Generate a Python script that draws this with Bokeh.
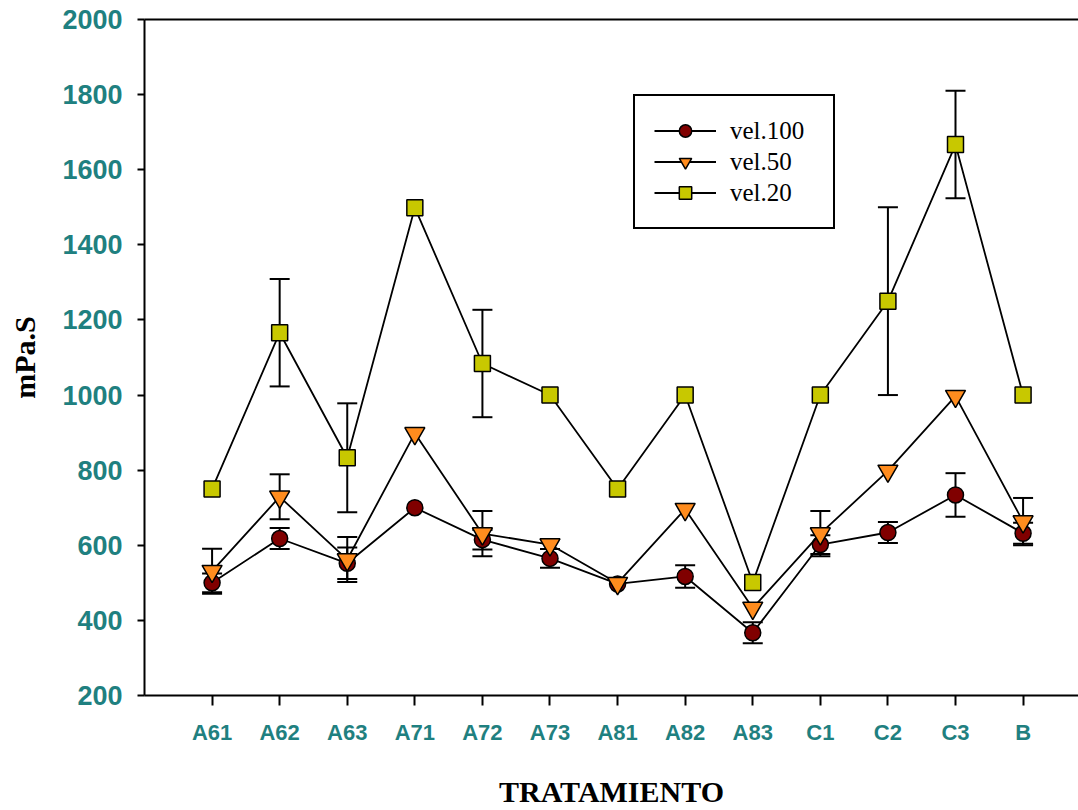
from bokeh.plotting import figure
from bokeh.models import (ColumnDataSource, Whisker, TeeHead, FixedTicker, LinearAxis,
                          Legend, LegendItem, Range1d)
from bokeh.embed import file_html
from bokeh.resources import INLINE

# ---------------- data ----------------
categories = ["A61", "A62", "A63", "A71", "A72", "A73", "A81", "A82", "A83", "C1", "C2", "C3", "B"]
vel100 = [500, 618, 552, 700, 615, 565, 497, 517, 367, 602, 634, 734, 632]
err100 = [25, 28, 42, 0, 26, 25, 0, 30, 28, 25, 28, 58, 28]
vel50 = [531, 729, 562, 898, 631, 602, 499, 696, 433, 631, 798, 997, 663]
err50 = [60, 60, 60, 0, 60, 0, 0, 0, 0, 60, 0, 0, 63]
vel20 = [750, 1166, 833, 1499, 1084, 1000, 750, 1000, 501, 1000, 1250, 1667, 1000]
err20 = [0, 143, 145, 0, 143, 0, 0, 0, 0, 0, 250, 143, 0]
y_ticks = [200, 400, 600, 800, 1000, 1200, 1400, 1600, 1800, 2000]

TEAL = "#1f8080"
xs = list(range(1, len(categories) + 1))

p = figure(width=1078, height=810, x_range=Range1d(0, 13.82), y_range=Range1d(200, 2000),
           output_backend="svg", toolbar_location=None,
           min_border_left=144, min_border_top=19, min_border_bottom=110, min_border_right=0)
p.outline_line_color = None
p.grid.visible = False
p.background_fill_color = "white"
p.border_fill_color = "white"

# axes styling
p.xaxis.ticker = FixedTicker(ticks=xs)
p.xaxis.major_label_overrides = {x: c for x, c in zip(xs, categories)}
p.yaxis.ticker = FixedTicker(ticks=y_ticks)
for ax in (p.xaxis[0], p.yaxis[0]):
    ax.axis_line_width = 2
    ax.axis_line_color = "black"
    ax.major_tick_line_width = 2
    ax.major_tick_in = 0
    ax.minor_tick_line_color = None
    ax.major_label_text_color = TEAL
    ax.major_label_text_font = "Liberation Sans"
    ax.major_label_text_font_style = "bold"
    ax.axis_label_text_font = "Liberation Serif"
    ax.axis_label_text_font_style = "bold"
    ax.axis_label_text_font_size = "30px"
    ax.axis_label_text_color = "black"

p.xaxis.major_tick_out = 10
p.xaxis.major_label_standoff = 14
p.xaxis.major_label_text_font_size = "22px"
p.xaxis.axis_label = "TRATAMIENTO"
p.xaxis.axis_label_standoff = 27

p.yaxis.major_tick_out = 7
p.yaxis.major_label_standoff = 15
p.yaxis.major_label_text_font_size = "27px"
p.yaxis.axis_label = "mPa.S"
p.yaxis.axis_label_standoff = 18

# top frame line
top = LinearAxis(ticker=FixedTicker(ticks=[]), major_label_text_font_size="0px",
                 major_tick_out=0, major_tick_in=0, minor_tick_out=0, minor_tick_in=0,
                 major_label_standoff=0, axis_line_width=2, axis_line_color="black")
p.add_layout(top, "above")

series = [
    ("vel.100", vel100, err100, "circle", "#800000", 16),
    ("vel.50", vel50, err50, "inverted_triangle", "#ff8c1e", 20),
    ("vel.20", vel20, err20, "square", "#c8c800", 16),
]

items = []
for label, vals, errs, marker, color, msize in series:
    ex = [x for x, e in zip(xs, errs) if e > 0]
    lo = [v - e for v, e in zip(vals, errs) if e > 0]
    hi = [v + e for v, e in zip(vals, errs) if e > 0]
    wsrc = ColumnDataSource(dict(x=ex, lower=lo, upper=hi))
    w = Whisker(source=wsrc, base="x", lower="lower", upper="upper",
                line_width=2, line_color="black",
                upper_head=TeeHead(size=20, line_width=2, line_color="black"),
                lower_head=TeeHead(size=20, line_width=2, line_color="black"))
    p.add_layout(w)
    src = ColumnDataSource(dict(x=xs, y=vals))
    ln = p.line("x", "y", source=src, line_color="black", line_width=1.8)
    sc = p.scatter("x", "y", source=src, marker=marker, size=msize,
                   fill_color=color, line_color="black", line_width=1.5)
    items.append(LegendItem(label=label, renderers=[ln, sc]))

legend = Legend(items=items, location=(489, 466), glyph_width=62, glyph_height=31,
                label_text_font="Liberation Serif", label_text_font_size="25px",
                label_standoff=14, label_width=84, spacing=0, padding=19,
                border_line_color="black", border_line_width=2, border_line_alpha=1.0,
                background_fill_alpha=1.0, label_text_color="black")
p.add_layout(legend, "center")

open("out.html", "w").write(file_html(p, INLINE))
